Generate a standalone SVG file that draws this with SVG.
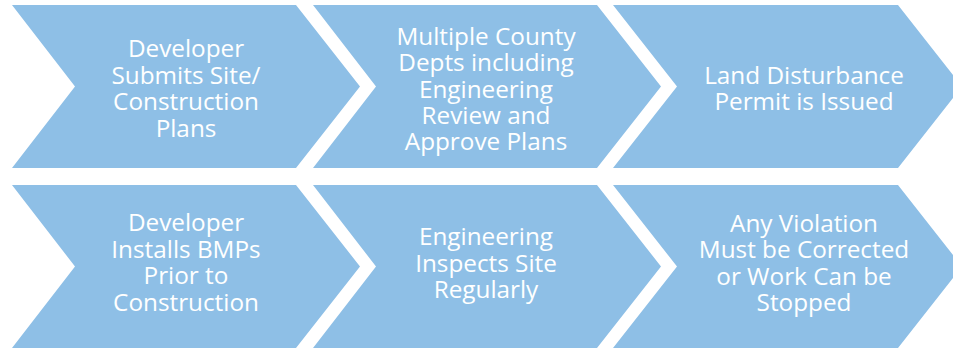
<svg xmlns="http://www.w3.org/2000/svg" width="953" height="350" viewBox="0 0 953 350">
<style>
.chev{fill:#8EBFE6;}
.t{font-family:"Open Sans","Noto Sans",sans-serif;font-size:24.3px;fill:#ffffff;text-anchor:middle;}
</style>
<rect width="953" height="350" fill="#ffffff"/>
<g id="connectors"></g>
<g id="node1">
<polygon class="chev" points="12,5 296,5 360,86.5 296,168 12,168 75,86.5"/>
<text class="t"><tspan x="186" y="57">Developer</tspan><tspan x="186" y="83.5">Submits Site/</tspan><tspan x="186" y="110">Construction</tspan><tspan x="186" y="136.5">Plans</tspan></text>
</g>
<g id="node2">
<polygon class="chev" points="313,5 597,5 661,86.5 597,168 313,168 376,86.5"/>
<text class="t"><tspan x="486" y="45">Multiple County</tspan><tspan x="486" y="71">Depts including</tspan><tspan x="486" y="97.5">Engineering</tspan><tspan x="486" y="124">Review and</tspan><tspan x="486" y="150">Approve Plans</tspan></text>
</g>
<g id="node3">
<polygon class="chev" points="613,5 898,5 962,86.5 898,168 613,168 677,86.5"/>
<text class="t"><tspan x="804" y="84">Land Disturbance</tspan><tspan x="804" y="110">Permit is Issued</tspan></text>
</g>
<g id="node4">
<polygon class="chev" points="12,185 296,185 360,266.5 296,348 12,348 75,266.5"/>
<text class="t"><tspan x="186" y="231">Developer</tspan><tspan x="186" y="257.5">Installs BMPs</tspan><tspan x="186" y="284">Prior to</tspan><tspan x="186" y="310.5">Construction</tspan></text>
</g>
<g id="node5">
<polygon class="chev" points="313,185 597,185 661,266.5 597,348 313,348 376,266.5"/>
<text class="t"><tspan x="486" y="245">Engineering</tspan><tspan x="486" y="271.5">Inspects Site</tspan><tspan x="486" y="298">Regularly</tspan></text>
</g>
<g id="node6">
<polygon class="chev" points="613,185 898,185 962,266.5 898,348 613,348 677,266.5"/>
<text class="t"><tspan x="804" y="232">Any Violation</tspan><tspan x="804" y="258">Must be Corrected</tspan><tspan x="804" y="284.5">or Work Can be</tspan><tspan x="804" y="310.5">Stopped</tspan></text>
</g>
</svg>
